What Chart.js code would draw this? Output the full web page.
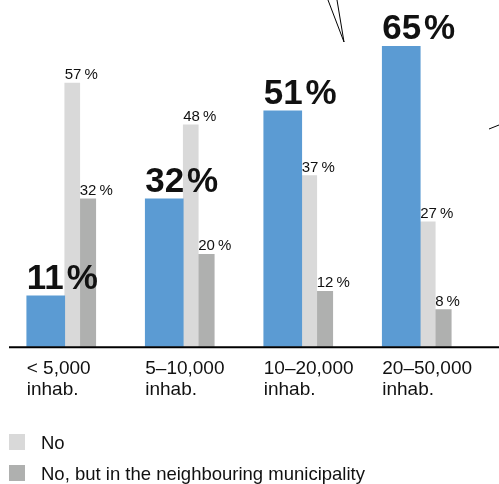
<!DOCTYPE html>
<html>
<head>
<meta charset="utf-8">
<script src="https://cdn.jsdelivr.net/npm/chart.js@4/dist/chart.umd.min.js"></script>
<style>
  html, body { margin: 0; padding: 0; background: #fff; }
  #wrap { position: relative; width: 499px; height: 484px; }
  #legend { position: absolute; left: 9px; top: 432px; font: 18.5px 'Liberation Sans', Arial, sans-serif; color: #111; }
  #legend .item { display: flex; align-items: flex-start; height: 22px; line-height: 22px; margin-bottom: 9px; }
  #legend .sw { width: 16px; height: 16px; margin-top: 2px; margin-right: 16px; }
</style>
</head>
<body>
<div id="wrap">
  <canvas id="chart" width="499" height="484"></canvas>
  <div id="legend"></div>
</div>
<script>
const FONT = "'Liberation Sans', Arial, sans-serif";
const INK  = '#111';

// ── Dados ──────────────────────────────────────────────────────────────────────
const SIZES       = [['< 5,000', 'inhab.'], ['5–10,000', 'inhab.'], ['10–20,000', 'inhab.'], ['20–50,000', 'inhab.']];
const YES         = [11, 32, 51, 65];
const NO          = [57, 48, 37, 27];
const NEIGHBOUR   = [32, 20, 12, 8];
const SERIES      = ['Yes', 'No', 'No, but in the neighbouring municipality'];
const COLORS      = ['#5b9bd3', '#d9d9d9', '#afb0af'];
const BAR_WIDTHS  = [38, 15, 16];

// ── Barras encostadas lado a lado, alinhadas ao centro da categoria ───────────
const sideBySide = {
  id: 'sideBySide',
  afterDatasetsUpdate(chart) {
    const x = chart.scales.x;
    const metas = chart.getSortedVisibleDatasetMetas();
    const total = metas.reduce((s, m) => s + BAR_WIDTHS[m.index], 0);
    SIZES.forEach((_, i) => {
      let left = x.getPixelForValue(i) - total / 2;
      metas.forEach(m => {
        const el = m.data[i];
        const w = BAR_WIDTHS[m.index];
        el.x = left + w / 2;
        el.width = w;
        left += w;
      });
    });
  },
};

// ── Rótulos de valor acima das barras ─────────────────────────────────────────
const valueLabels = {
  id: 'valueLabels',
  afterDatasetsDraw(chart) {
    const { ctx } = chart;
    ctx.save();
    ctx.fillStyle = INK;
    ctx.textAlign = 'left';
    ctx.textBaseline = 'alphabetic';
    chart.getSortedVisibleDatasetMetas().forEach(m => {
      const big = m.index === 0;
      ctx.font = big ? `bold 35px ${FONT}` : `15px ${FONT}`;
      m.data.forEach((el, i) => {
        const v = chart.data.datasets[m.index].data[i];
        ctx.fillText(v + (big ? '\u200a%' : '\u2009%'), el.x - el.width / 2, el.y - (big ? 7 : 4));
      });
    });
    ctx.restore();
  },
};

// ── Linha de base e traços de chamada ─────────────────────────────────────────
const baseline = {
  id: 'baseline',
  afterDraw(chart) {
    const { ctx } = chart;
    const y0 = chart.scales.y.getPixelForValue(0);
    ctx.save();
    ctx.strokeStyle = '#000';
    ctx.lineWidth = 2;
    ctx.beginPath();
    ctx.moveTo(9, y0 + 0.5);
    ctx.lineTo(chart.width, y0 + 0.5);
    ctx.stroke();

    ctx.lineWidth = 1;
    ctx.beginPath();
    ctx.moveTo(328, 0); ctx.lineTo(344, 42); ctx.lineTo(337, 0);
    ctx.moveTo(489, 129); ctx.lineTo(499, 125);
    ctx.stroke();
    ctx.restore();
  },
};

new Chart(document.getElementById('chart'), {
  type: 'bar',
  data: {
    labels: SIZES,
    datasets: [YES, NO, NEIGHBOUR].map((d, i) => ({
      label: SERIES[i],
      data: d,
      backgroundColor: COLORS[i],
      borderWidth: 0,
      barThickness: BAR_WIDTHS[i],
      grouped: false,
    })),
  },
  options: {
    responsive: false,
    animation: false,
    layout: { padding: { left: 2, right: 23, top: 0, bottom: 72 } },
    plugins: { legend: { display: false }, tooltip: { enabled: false } },
    scales: {
      x: {
        grid: { display: false, drawTicks: false },
        border: { display: false },
        ticks: {
          color: INK,
          font: { family: FONT, size: 19, lineHeight: 1.14 },
          align: 'start',
          labelOffset: -34.5,
          padding: 11,
          maxRotation: 0,
          autoSkip: false,
        },
        afterFit: s => { s.paddingLeft = 0; s.paddingRight = 0; },
      },
      y: { display: false, min: 0, max: 75 },
    },
  },
  plugins: [sideBySide, valueLabels, baseline],
});

// legenda só com as séries cinzentas
const legend = document.getElementById('legend');
[1, 2].forEach(i => {
  const item = document.createElement('div');
  item.className = 'item';
  item.innerHTML = `<span class="sw" style="background:${COLORS[i]}"></span>${SERIES[i]}`;
  legend.appendChild(item);
});
</script>
</body>
</html>
